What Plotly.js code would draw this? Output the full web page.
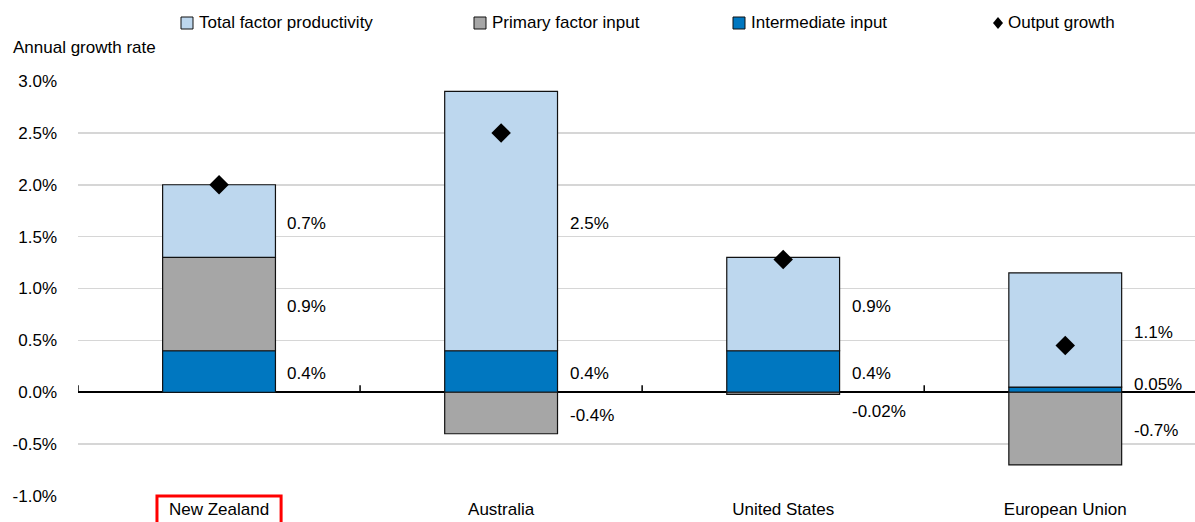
<!DOCTYPE html>
<html>
<head>
<meta charset="utf-8">
<script src="https://cdn.plot.ly/plotly-3.0.1.min.js"></script>
<style>html,body{margin:0;padding:0;background:#fff;}#chart{width:1195px;height:522px;}</style>
</head>
<body>
<div id="chart"></div>
<script>
// ---- data ----
const categories = ["New Zealand", "Australia", "United States", "European Union"];
const intermediateInput = [0.4, 0.4, 0.4, 0.05];
const primaryFactorInput = [0.9, -0.4, -0.02, -0.7];
const totalFactorProductivity = [0.7, 2.5, 0.9, 1.1];
const outputGrowth = [2.0, 2.5, 1.28, 0.45];
const intermediateLabels = ["0.4%", "0.4%", "0.4%", "0.05%"];
const primaryLabels = ["0.9%", "-0.4%", "-0.02%", "-0.7%"];
const tfpLabels = ["0.7%", "2.5%", "0.9%", "1.1%"];
const yTickVals = [-1.0, -0.5, 0.0, 0.5, 1.0, 1.5, 2.0, 2.5, 3.0];
const yTickText = ["-1.0%", "-0.5%", "0.0%", "0.5%", "1.0%", "1.5%", "2.0%", "2.5%", "3.0%"];
const seriesNames = ["Total factor productivity", "Primary factor input", "Intermediate input", "Output growth"];

// ---- style ----
const FONT = '"Liberation Sans Narrow", "Arial Narrow", "Liberation Sans", Arial, sans-serif';
const FS = 17;
const C_TFP = '#BDD7EE', C_PRIM = '#A6A6A6', C_INT = '#0077C0';
const BARW = 0.4;

const barLine = {color: '#111', width: 1.2};
const traces = [
  {type: 'bar', name: seriesNames[2], x: categories, y: intermediateInput, width: BARW,
   marker: {color: C_INT, line: barLine}, hoverinfo: 'skip'},
  {type: 'bar', name: seriesNames[1], x: categories, y: primaryFactorInput, width: BARW,
   marker: {color: C_PRIM, line: barLine}, hoverinfo: 'skip'},
  {type: 'bar', name: seriesNames[0], x: categories, y: totalFactorProductivity, width: BARW,
   marker: {color: C_TFP, line: barLine}, hoverinfo: 'skip'},
  {type: 'scatter', mode: 'markers', name: seriesNames[3], x: categories, y: outputGrowth,
   marker: {symbol: 'diamond', size: 15, color: '#000'}, hoverinfo: 'skip'}
];

// labels: placed at segment midpoints, right of bars
const annotations = [];
const extraShift = {"United States|prim": -16, "European Union|int": 7};
categories.forEach((c, i) => {
  const inter = intermediateInput[i], prim = primaryFactorInput[i], tfp = totalFactorProductivity[i];
  const intMid = inter / 2;
  const primMid = prim >= 0 ? inter + prim / 2 : prim / 2;
  const tfpBase = inter + Math.max(prim, 0);
  const tfpMid = tfpBase + tfp / 2;
  [[tfpMid, tfpLabels[i], 'tfp'], [primMid, primaryLabels[i], 'prim'], [intMid, intermediateLabels[i], 'int']]
    .forEach(([y, t, k]) => {
      annotations.push({x: i + BARW / 2, y: y, xref: 'x', yref: 'y', text: t, showarrow: false,
        xanchor: 'left', yanchor: 'middle', xshift: 10, yshift: -2 + (extraShift[c + '|' + k] || 0),
        font: {family: FONT, size: FS, color: '#000'}});
    });
});

annotations.push({xref: 'paper', yref: 'paper', x: 0, y: 1, xshift: -67, yshift: 34,
  xanchor: 'left', yanchor: 'middle', text: 'Annual growth rate', showarrow: false,
  font: {family: FONT, size: FS, color: '#000'}});

// custom legend
const legendItems = [
  {px: 181, color: C_TFP, name: seriesNames[0], kind: 'sq'},
  {px: 474, color: C_PRIM, name: seriesNames[1], kind: 'sq'},
  {px: 733, color: C_INT, name: seriesNames[2], kind: 'sq'},
  {px: 993, color: '#000', name: seriesNames[3], kind: 'dia'}
];
const W = 1195, H = 522, ML = 78, MR = 0, MT = 81, MB = 26;
const shapes = [];
const legY = 23;
legendItems.forEach(it => {
  const toPx = v => (v - ML) / (W - ML - MR);
  const toPy = v => (H - MB - v) / (H - MT - MB);
  if (it.kind === 'sq') {
    shapes.push({type: 'rect', xref: 'paper', yref: 'paper', x0: toPx(it.px), x1: toPx(it.px + 12),
      y0: toPy(legY + 6), y1: toPy(legY - 6), fillcolor: it.color, line: {color: '#111', width: 1}});
  } else {
    const cx = it.px + 5, cy = legY;
    shapes.push({type: 'path', xref: 'paper', yref: 'paper',
      path: `M${toPx(cx)},${toPy(cy - 6)} L${toPx(cx + 5)},${toPy(cy)} L${toPx(cx)},${toPy(cy + 6)} L${toPx(cx - 5)},${toPy(cy)} Z`,
      fillcolor: '#000', line: {width: 0}});
  }
  annotations.push({xref: 'paper', yref: 'paper', x: toPx(it.px + (it.kind === 'sq' ? 16 : 13)), y: toPy(legY),
    xanchor: 'left', yanchor: 'middle', text: it.name, showarrow: false,
    font: {family: FONT, size: FS, color: '#000'}});
});

// category boundary ticks on the zero line
for (let i = 0; i < categories.length; i++) {
  shapes.push({type: 'line', xref: 'x', yref: 'y', ysizemode: 'pixel', yanchor: 0,
    x0: i - 0.5, x1: i - 0.5, y0: 0, y1: 7, line: {color: '#000', width: 1.5}});
}
// red highlight box around New Zealand label
shapes.push({type: 'rect', xref: 'x', yref: 'paper', x0: -0.22, x1: 0.22, y0: 0, y1: -0.09,
  line: {color: '#FF0000', width: 3}, fillcolor: 'rgba(0,0,0,0)'});

const layout = {
  width: W, height: H,
  margin: {l: ML, r: MR, t: MT, b: MB, pad: 0},
  paper_bgcolor: '#fff', plot_bgcolor: '#fff',
  barmode: 'relative', showlegend: false,
  font: {family: FONT, size: FS, color: '#000'},
  xaxis: {type: 'category', range: [-0.5, 3.46], showgrid: false, zeroline: false, showline: false,
    ticks: '', tickfont: {family: FONT, size: FS, color: '#000'}, ticklabelstandoff: 1, fixedrange: true},
  yaxis: {range: [-1.0, 3.0], tickmode: 'array', tickvals: yTickVals, ticktext: yTickText,
    showgrid: true, gridcolor: '#D6D6D6', gridwidth: 1.5,
    zeroline: true, zerolinecolor: '#000', zerolinewidth: 2, showline: false, ticks: '',
    ticklabelstandoff: 20, tickfont: {family: FONT, size: FS, color: '#000'}, fixedrange: true},
  annotations: annotations,
  shapes: shapes
};

Plotly.newPlot('chart', traces, layout, {displayModeBar: false, staticPlot: true});
</script>
</body>
</html>
